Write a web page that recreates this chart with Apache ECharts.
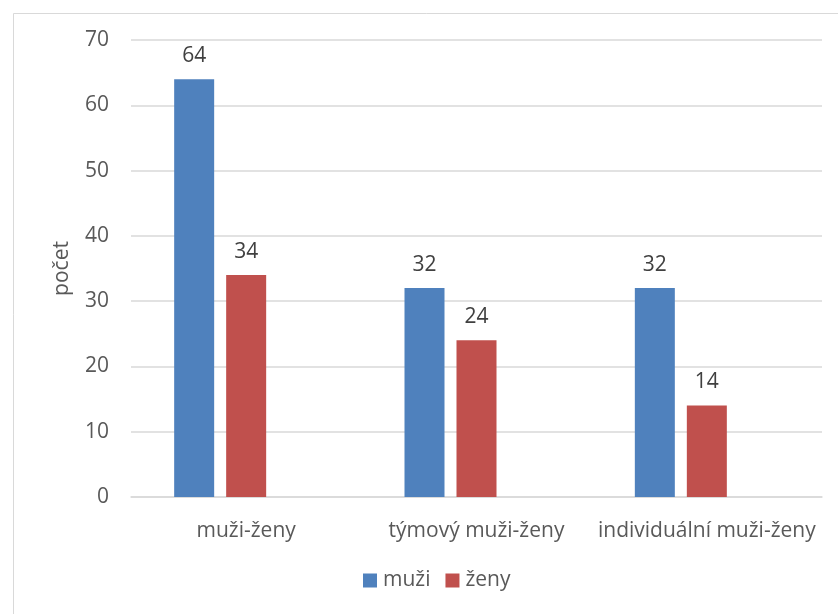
<!DOCTYPE html>
<html><head><meta charset="utf-8">
<script src="https://cdn.jsdelivr.net/npm/echarts@6/dist/echarts.min.js"></script>
<style>html,body{margin:0;padding:0;background:#fff}#c{width:838px;height:614px}</style>
</head><body><div id="c"></div>
<script>
const categories = ['muži-ženy', 'týmový muži-ženy', 'individuální muži-ženy'];
const muzi = [64, 32, 32];
const zeny = [34, 24, 14];
const empty = [null, null, null];
const yTicks = [0, 10, 20, 30, 40, 50, 60, 70];

const FONT = '"Open Sans", sans-serif';
const FS = 21;
const chart = echarts.init(document.getElementById('c'), null, {renderer: 'canvas'});
chart.setOption({
  animation: false,
  backgroundColor: '#fff',
  graphic: [{type: 'rect', left: 11, top: 11, shape: {width: 840, height: 620}, style: {fill: 'none', stroke: '#d9d9d9', lineWidth: 1}, silent: true}],
  grid: {left: 131, right: 16, top: 40, bottom: 117, containLabel: false},
  legend: {
    data: ['muži', 'ženy'], bottom: 18, left: 358, itemWidth: 14, itemHeight: 14, itemGap: 15,
    icon: 'rect', textStyle: {fontFamily: FONT, fontSize: FS, color: '#595959', padding: [0, 0, 0, 1]}
  },
  xAxis: {
    type: 'category', data: categories,
    axisLine: {lineStyle: {color: '#d9d9d9', width: 1.5}}, axisTick: {show: false},
    axisLabel: {fontFamily: FONT, fontSize: FS, color: '#595959', margin: 24, interval: 0}
  },
  yAxis: {
    type: 'value', min: 0, max: 70, interval: 10,
    name: 'počet', nameLocation: 'middle', nameGap: 58, nameRotate: 90,
    nameTextStyle: {fontFamily: FONT, fontSize: FS, color: '#595959'},
    axisLine: {show: false}, axisTick: {show: false},
    axisLabel: {fontFamily: FONT, fontSize: FS, color: '#595959', margin: 22,
      formatter: v => yTicks.includes(v) ? String(v) : ''},
    splitLine: {lineStyle: {color: '#d9d9d9', width: 1.5}}
  },
  series: [
    {name: 'muži', type: 'bar', data: muzi, barWidth: 40, barGap: '30%', itemStyle: {color: '#4F81BD'},
     label: {show: true, position: 'top', distance: 13, fontFamily: FONT, fontSize: FS, color: '#404040'}},
    {name: 'ženy', type: 'bar', data: zeny, barWidth: 40, barGap: '30%', itemStyle: {color: '#C0504D'},
     label: {show: true, position: 'top', distance: 13, fontFamily: FONT, fontSize: FS, color: '#404040'}},
    {name: 'prázdné', type: 'bar', data: empty, barWidth: 40, barGap: '30%', itemStyle: {color: '#9BBB59'}}
  ]
});
</script></body></html>
